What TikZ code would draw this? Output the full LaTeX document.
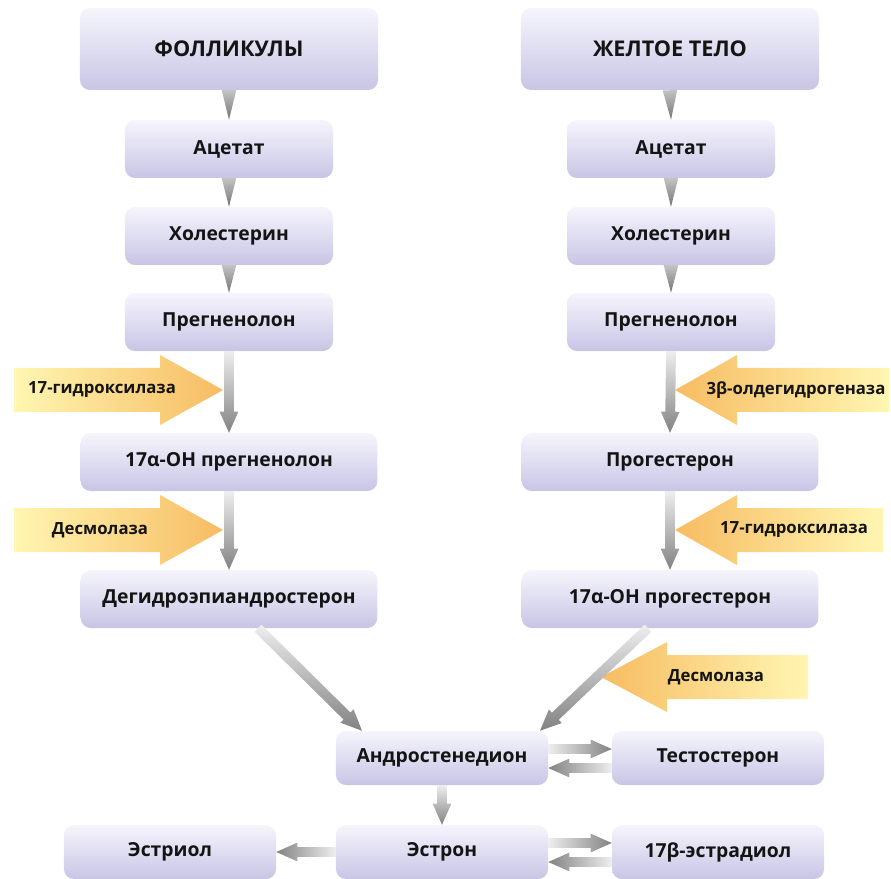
\documentclass[tikz,border=0pt]{standalone}
\usepackage{fontspec}
\setmainfont{Open Sans}
\usetikzlibrary{calc}
\definecolor{boxtop}   {RGB}{246, 245, 252}
\definecolor{boxbot}   {RGB}{200, 197, 229}
\definecolor{flowlight}{RGB}{238, 238, 238}
\definecolor{flowdark} {RGB}{130, 130, 130}
\definecolor{enzlight} {RGB}{255, 246, 178}
\definecolor{enzdark}  {RGB}{247, 188,  98}
\definecolor{txt}      {RGB}{ 20,  20,  20}

\tikzset{
	box/.style={rectangle, rounded corners=8.5pt, top color=boxtop, bottom color=boxbot,
		text=txt, font=\fontsize{16.5}{19}\selectfont\bfseries,
		minimum width=6.24cm, minimum height=1.74cm},
	widebox/.style={box, minimum width=8.9cm},
	headbox/.style={box, minimum width=8.94cm, minimum height=2.46cm,
		font=\fontsize{18.5}{22}\selectfont\bfseries},
	lowbox/.style={box, minimum width=6.36cm, minimum height=1.62cm},
	enz/.style={text=txt, font=\fontsize{14.3}{17}\selectfont\bfseries, inner sep=0pt},
	gdown/.style={top color=flowlight, bottom color=flowdark},
	gright/.style={left color=flowlight, right color=flowdark},
	gleft/.style={left color=flowdark, right color=flowlight},
	enzr/.style={left color=enzlight, right color=enzdark},
	enzl/.style={left color=enzdark, right color=enzlight}
}

% gray arrow from #2 to #3
\newcommand{\flow}[3][gdown]{%
	\coordinate (fa) at (#2); \coordinate (fb) at (#3);
	\coordinate (fh) at ($(fb)!18pt!(fa)$);
	\shade[#1] ($(fa)!4.2pt!90:(fh)$) -- ($(fh)!4.2pt!-90:(fa)$) -- ($(fh)!8pt!-90:(fa)$)
		-- (fb) -- ($(fh)!8pt!90:(fa)$) -- ($(fh)!4.2pt!90:(fa)$) -- ($(fa)!4.2pt!-90:(fh)$) -- cycle;}
% short wedge from #1 to #2
\newcommand{\tipflow}[2]{%
	\coordinate (fa) at (#1); \coordinate (fb) at (#2);
	\shade[top color=flowlight!60!flowdark, bottom color=flowdark!90!black]
		($(fa)!6.2pt!90:(fb)$) -- (fb) -- ($(fa)!6.2pt!-90:(fb)$) -- cycle;}
% enzyme arrow: tail x, head base x, tip x, middle y
\newcommand{\enzarrow}[5][enzr]{%
	\shade[#1] (#2,#5-22) -- (#3,#5-22) -- (#3,#5-35) -- (#4,#5) -- (#3,#5+35)
		-- (#3,#5+22) -- (#2,#5+22) -- cycle;}

\begin{document}
\begin{tikzpicture}[x=0.03cm, y=-0.03cm]
	\useasboundingbox (0,0) rectangle (891,879);

	% enzymes
	\enzarrow{14}{160}{223}{390}
	\enzarrow{14}{160}{223}{530}
	\enzarrow[enzl]{889}{737}{675}{390}
	\enzarrow[enzl]{883}{737}{675}{530}
	\enzarrow[enzl]{808}{667}{601}{677}
	\node[enz] (hyd1) at (102,390) {17-гидроксилаза};
	\node[enz] (des1) at (100,530) {Десмолаза};
	\node[enz] (dehy) at (796,390) {3β-олдегидрогеназа};
	\node[enz] (hyd2) at (794,530) {17-гидроксилаза};
	\node[enz] (des2) at (716,677) {Десмолаза};

	% follicles
	\node[headbox] (fol)  at (229,49)  {ФОЛЛИКУЛЫ};
	\node[box]     (ac1)  at (229,149) {Ацетат};
	\node[box]     (ch1)  at (229,236) {Холестерин};
	\node[box]     (pr1)  at (229,322) {Прегненолон};
	\node[widebox] (oh1)  at (229,462) {17α-ОН прегненолон};
	\node[widebox] (dhea) at (229,599) {Дегидроэпиандростерон};

	% corpus luteum
	\node[headbox] (cl)   at (670,49)  {ЖЕЛТОЕ ТЕЛО};
	\node[box]     (ac2)  at (671,149) {Ацетат};
	\node[box]     (ch2)  at (671,236) {Холестерин};
	\node[box]     (pr2)  at (671,322) {Прегненолон};
	\node[widebox] (prog) at (670,462) {Прогестерон};
	\node[widebox] (oh2)  at (670,599) {17α-ОН прогестерон};

	% common end
	\node[lowbox] (andr) at (442,758) {Андростенедион};
	\node[lowbox] (test) at (718,758) {Тестостерон};
	\node[lowbox] (estl) at (170,852) {Эстриол};
	\node[lowbox] (estn) at (442,852) {Эстрон};
	\node[lowbox] (estd) at (718,852) {17β-эстрадиол};

	\tipflow{fol.south}{ac1.north} \tipflow{ac1.south}{ch1.north} \tipflow{ch1.south}{pr1.north}
	\tipflow{cl.south}{ac2.north}  \tipflow{ac2.south}{ch2.north} \tipflow{ch2.south}{pr2.north}
	\flow{pr1.south}{oh1.north} \flow{oh1.south}{dhea.north}
	\flow{pr2.south}{prog.north} \flow{prog.south}{oh2.north}
	\flow{$(dhea.south)+(29,0)$}{$(andr.north)+(-80,0)$}
	\flow{$(oh2.south)+(-22,0)$}{$(andr.north)+(98,0)$}
	\flow[gright]{$(andr.east)+(0,-9)$}{$(test.west)+(0,-9)$}
	\flow[gleft]{$(test.west)+(0,10)$}{$(andr.east)+(0,10)$}
	\flow{andr.south}{estn.north}
	\flow[gleft]{estn.west}{estl.east}
	\flow[gright]{$(estn.east)+(0,-9)$}{$(estd.west)+(0,-9)$}
	\flow[gleft]{$(estd.west)+(0,10)$}{$(estn.east)+(0,10)$}
\end{tikzpicture}
\end{document}
